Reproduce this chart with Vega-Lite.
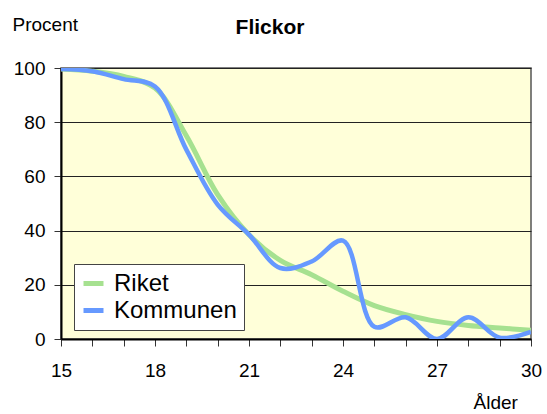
{
  "$schema": "https://vega.github.io/schema/vega-lite/v6.json",
  "width": 470,
  "height": 271,
  "autosize": {"type": "none"},
  "padding": {"left": 61, "top": 68, "right": 16, "bottom": 75},
  "background": "white",
  "config": {
    "font": "Liberation Sans",
    "view": {"fill": "#FFFFD9", "stroke": "#555555", "strokeWidth": 1.5}
  },
  "title": {
    "text": "Flickor",
    "fontSize": 21,
    "fontWeight": "bold",
    "font": "Liberation Sans",
    "color": "black",
    "anchor": "middle",
    "frame": "group",
    "dx": -26,
    "baseline": "alphabetic",
    "offset": 0,
    "dy": 40
  },
  "data": {
    "values": [
      {"alder": 15, "serie": "Riket", "procent": 99.6},
      {"alder": 16, "serie": "Riket", "procent": 98.8},
      {"alder": 17, "serie": "Riket", "procent": 96.9},
      {"alder": 18, "serie": "Riket", "procent": 92.6},
      {"alder": 19, "serie": "Riket", "procent": 75.0},
      {"alder": 20, "serie": "Riket", "procent": 53.3},
      {"alder": 21, "serie": "Riket", "procent": 38.5},
      {"alder": 22, "serie": "Riket", "procent": 29.0},
      {"alder": 23, "serie": "Riket", "procent": 23.7},
      {"alder": 24, "serie": "Riket", "procent": 17.6},
      {"alder": 25, "serie": "Riket", "procent": 12.3},
      {"alder": 26, "serie": "Riket", "procent": 9.0},
      {"alder": 27, "serie": "Riket", "procent": 6.5},
      {"alder": 28, "serie": "Riket", "procent": 5.0},
      {"alder": 29, "serie": "Riket", "procent": 4.1},
      {"alder": 30, "serie": "Riket", "procent": 3.2},
      {"alder": 15, "serie": "Kommunen", "procent": 99.6},
      {"alder": 16, "serie": "Kommunen", "procent": 98.8},
      {"alder": 17, "serie": "Kommunen", "procent": 95.9},
      {"alder": 18, "serie": "Kommunen", "procent": 93.2},
      {"alder": 19, "serie": "Kommunen", "procent": 69.9},
      {"alder": 20, "serie": "Kommunen", "procent": 49.6},
      {"alder": 21, "serie": "Kommunen", "procent": 38.5},
      {"alder": 22, "serie": "Kommunen", "procent": 26.2},
      {"alder": 23, "serie": "Kommunen", "procent": 28.6},
      {"alder": 24, "serie": "Kommunen", "procent": 36.3},
      {"alder": 25, "serie": "Kommunen", "procent": 4.5},
      {"alder": 26, "serie": "Kommunen", "procent": 8.0},
      {"alder": 27, "serie": "Kommunen", "procent": 0.0},
      {"alder": 28, "serie": "Kommunen", "procent": 8.0},
      {"alder": 29, "serie": "Kommunen", "procent": 0.5},
      {"alder": 30, "serie": "Kommunen", "procent": 2.6}
    ]
  },
  "encoding": {
    "x": {
      "field": "alder",
      "type": "quantitative",
      "scale": {"domain": [15, 30], "nice": false, "zero": false},
      "axis": {
        "values": [15, 16, 17, 18, 19, 20, 21, 22, 23, 24, 25, 26, 27, 28, 29, 30],
        "labelExpr": "(datum.value - 15) % 3 == 0 ? datum.label : ''",
        "grid": false,
        "domainColor": "black",
        "domainWidth": 2,
        "tickColor": "#333333",
        "tickSize": 7,
        "tickWidth": 1,
        "labelFontSize": 19,
        "labelColor": "black",
        "labelPadding": 15,
        "labelFlush": false,
        "title": "Ålder",
        "titleFontSize": 19,
        "titleFontWeight": "normal",
        "titleColor": "black",
        "titleAlign": "left",
        "titleBaseline": "alphabetic",
        "titleX": 412,
        "titleY": 69
      }
    },
    "y": {
      "field": "procent",
      "type": "quantitative",
      "scale": {"domain": [0, 100], "nice": false},
      "axis": {
        "values": [0, 20, 40, 60, 80, 100],
        "grid": true,
        "gridColor": "#222222",
        "gridWidth": 1,
        "domainColor": "black",
        "domainWidth": 2,
        "tickColor": "#333333",
        "tickSize": 7,
        "labelFontSize": 19,
        "labelColor": "black",
        "labelPadding": 9,
        "title": "Procent",
        "titleFontSize": 19,
        "titleFontWeight": "normal",
        "titleColor": "black",
        "titleAngle": 0,
        "titleAlign": "left",
        "titleBaseline": "alphabetic",
        "titleX": -49,
        "titleY": -38
      }
    },
    "color": {
      "field": "serie",
      "type": "nominal",
      "scale": {"domain": ["Riket", "Kommunen"], "range": ["#A6E190", "#6699FF"]},
      "legend": {
        "title": null,
        "orient": "none",
        "legendX": 13,
        "legendY": 196,
        "fillColor": "white",
        "strokeColor": "#444444",
        "padding": 7,
        "symbolType": "stroke",
        "symbolStrokeWidth": 5,
        "symbolSize": 400,
        "labelFontSize": 24,
        "labelColor": "black",
        "labelOffset": 8,
        "rowPadding": 2,
        "labelLimit": 300
      }
    }
  },
  "layer": [
    {
      "transform": [{"filter": "datum.serie == 'Riket'"}],
      "mark": {"type": "line", "interpolate": "catmull-rom", "strokeWidth": 5, "clip": true}
    },
    {
      "transform": [{"filter": "datum.serie == 'Kommunen'"}],
      "mark": {"type": "line", "interpolate": "catmull-rom", "strokeWidth": 4.5, "clip": true}
    }
  ]
}
